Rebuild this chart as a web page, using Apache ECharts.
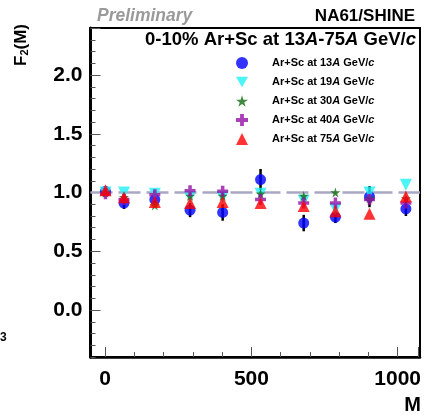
<!DOCTYPE html>
<html>
<head>
<meta charset="utf-8">
<script src="https://cdn.jsdelivr.net/npm/echarts@6/dist/echarts.min.js"></script>
<style>html,body{margin:0;padding:0;background:#fff}#c{width:424px;height:415px}</style>
</head>
<body>
<div id="c"></div>
<script>
// Multiplicity bins M
const mValues = [1, 64, 169, 289, 400, 529, 676, 784, 900, 1024];
// F2(M) values per beam momentum
const f2_13 = [1.01, 0.91, 0.94, 0.85, 0.83, 1.11, 0.74, 0.79, 0.965, 0.86];
const err_13 = [0.02, 0.05, 0.03, 0.06, 0.07, 0.09, 0.07, 0.05, 0.09, 0.06];
const f2_19 = [1.00, 1.00, 0.99, 0.96, 0.96, 0.99, 0.93, 0.86, 1.00, 1.065];
const f2_30 = [1.00, 0.96, 0.89, 0.97, 0.97, 0.99, 0.97, 1.00, 0.95, 0.95];
const f2_40 = [0.99, 0.94, 0.98, 1.015, 1.01, 0.94, 0.91, 0.91, 0.94, 0.91];
const f2_75 = [1.02, 0.96, 0.92, 0.91, 0.92, 0.91, 0.885, 0.84, 0.82, 0.965];
const referenceLevel = 1;
const yTickLabels = ['0.0', '0.5', '1.0', '1.5', '2.0'];
const xTickLabels = ['0', '500', '1000'];
const seriesNames = ['Ar+Sc at 13A GeV/c', 'Ar+Sc at 19A GeV/c', 'Ar+Sc at 30A GeV/c', 'Ar+Sc at 40A GeV/c', 'Ar+Sc at 75A GeV/c'];

const FONT = 'Liberation Sans, Arial, sans-serif';
const starPath = 'path://M50,0 L61,35 L98,35 L68,57 L79,91 L50,70 L21,91 L32,57 L2,35 L39,35 Z';
const crossPath = 'path://M34,0 H66 V34 H100 V66 H66 V100 H34 V66 H0 V34 H34 Z';
const downTriPath = 'path://M0,0 L100,0 L50,87 Z';

function pts(vals) { return mValues.map((m, i) => [m, vals[i]]); }

const chart = echarts.init(document.getElementById('c'), null, {renderer: 'canvas'});
const W = 424, H = 415;
const xMin = -50, xMax = 1072, yMin = -0.4, yMax = 2.4;
const gL = 90.5, gR = 4, gT = 28, gB = 58;
// pixel of value 0 on each axis (for the aligned tick grids)
const pxPerX = (W - gL - gR) / (xMax - xMin);
const x0px = gL + (0 - xMin) * pxPerX;
const pxPerY = (H - gT - gB) / (yMax - yMin);
const y0px = gT + (yMax - 0) * pxPerY;

const yLabelFmt = v => {
  const s = (Math.round(v * 10) / 10).toFixed(1);
  return yTickLabels.indexOf(s) >= 0 ? s : '';
};
const xLabelFmt = v => {
  const s = String(Math.round(v));
  return xTickLabels.indexOf(s) >= 0 ? s : '';
};

const legendFmt = name => {
  const m = name.match(/at (\d+)A GeV\/c/);
  return '{s|}Ar+Sc at ' + m[1] + '{i|A} GeV/{i|c}';
};

const hiddenAxis = (gi, extra) => Object.assign({type: 'value', gridIndex: gi, show: false}, extra || {});
const tickStyle = {color: '#555', width: 1};
const labelStyle = {fontFamily: FONT, fontSize: 21, fontWeight: 'bold', color: '#000'};

chart.setOption({
  animation: false,
  backgroundColor: '#fff',
  title: [
    {text: 'Preliminary', left: 92, top: 2, textStyle: {fontFamily: FONT, fontSize: 17.5, fontWeight: 'bold', fontStyle: 'italic', color: '#9a9a9a'}},
    {text: 'NA61/SHINE', right: 4, top: 3, textStyle: {fontFamily: FONT, fontSize: 17, fontWeight: 'bold', color: '#000'}},
    {text: '0-10% Ar+Sc at 13{i|A}-75{i|A} GeV/{i|c}', right: 3, top: 25,
     textStyle: {fontFamily: FONT, fontSize: 18.5, fontWeight: 'bold', color: '#000',
       rich: {i: {fontFamily: FONT, fontSize: 18.5, fontWeight: 'bold', fontStyle: 'italic', color: '#000'}}}}
  ],
  grid: [
    {left: gL, right: gR, top: gT, bottom: gB, show: true, borderColor: '#000', borderWidth: 2, backgroundColor: 'transparent'},
    {left: gL, right: gR, top: gT, bottom: H - y0px},
    {left: x0px, right: gR, top: gT, bottom: gB}
  ],
  legend: {
    orient: 'vertical', left: 236, top: 57, padding: 0, itemWidth: 12, itemHeight: 12, itemGap: 7,
    data: seriesNames,
    formatter: legendFmt,
    textStyle: {fontFamily: FONT, fontSize: 11, fontWeight: 'bold', color: '#000', lineHeight: 12,
      rich: {s: {width: 19}, i: {fontFamily: FONT, fontSize: 11, fontWeight: 'bold', fontStyle: 'italic', color: '#000'}}}
  },
  xAxis: [
    {type: 'value', gridIndex: 0, min: xMin, max: xMax, position: 'bottom',
     axisLine: {show: true, onZero: false, lineStyle: {color: '#000', width: 2.5}},
     axisTick: {show: false}, axisLabel: {show: false}, splitLine: {show: false}},
    hiddenAxis(1, {min: xMin, max: xMax}),
    {type: 'value', gridIndex: 2, min: 0, max: xMax, interval: 100, position: 'bottom',
     axisLine: {show: false, onZero: false},
     axisTick: {show: true, inside: true, length: 5, lineStyle: tickStyle},
     axisLabel: {show: false}, splitLine: {show: false}},
    {type: 'value', gridIndex: 2, min: 0, max: xMax, interval: 500, position: 'bottom', offset: 0,
     axisLine: {show: false, onZero: false},
     axisTick: {show: true, inside: true, length: 10, lineStyle: tickStyle},
     axisLabel: Object.assign({show: true, margin: 12, formatter: xLabelFmt, showMinLabel: true, showMaxLabel: true}, labelStyle),
     splitLine: {show: false}}
  ],
  yAxis: [
    {type: 'value', gridIndex: 0, min: yMin, max: yMax, interval: 0.1, position: 'left',
     axisLine: {show: true, onZero: false, lineStyle: {color: '#000', width: 3}},
     axisTick: {show: true, inside: true, length: 5, lineStyle: tickStyle},
     axisLabel: {show: false}, splitLine: {show: false}},
    {type: 'value', gridIndex: 1, min: 0, max: yMax, interval: 0.5, position: 'left',
     axisLine: {show: false, onZero: false},
     axisTick: {show: true, inside: true, length: 10, lineStyle: tickStyle},
     axisLabel: Object.assign({show: true, margin: 8, padding: [6, 0, 0, 0], formatter: yLabelFmt}, labelStyle),
     splitLine: {show: false}},
    hiddenAxis(2, {min: yMin, max: yMax})
  ],
  graphic: [
    {type: 'text', x: 12, y: 66, rotation: Math.PI / 2, z: 10,
     style: {text: 'F{sub|2}(M)', fill: '#000', font: 'bold 17px ' + FONT,
       rich: {sub: {fontSize: 11, fontWeight: 'bold', fontFamily: FONT, padding: [7, 0, 0, 0], fill: '#000'}}}},
    {type: 'text', right: 3, bottom: 0, z: 10, style: {text: 'M', fill: '#000', font: 'bold 20px ' + FONT}},
    {type: 'text', left: 0, top: 332, z: 10, style: {text: '3', fill: '#000', font: 'bold 12px ' + FONT}}
  ],
  series: [
    {type: 'custom', name: 'err13', xAxisIndex: 0, yAxisIndex: 0, z: 2, silent: true,
     data: mValues.map((m, i) => [m, f2_13[i], err_13[i]]),
     renderItem: (params, api) => {
       const x = api.value(0), y = api.value(1), e = api.value(2);
       const a = api.coord([x, y + e]), b = api.coord([x, y - e]);
       return {type: 'line', shape: {x1: a[0], y1: a[1], x2: b[0], y2: b[1]}, style: {stroke: '#000', lineWidth: 2.5}};
     },
     markLine: {silent: true, symbol: 'none', z: 1, label: {show: false},
       lineStyle: {color: '#a8a8c6', width: 2.5, type: [22, 6]}, data: [{yAxis: referenceLevel}]}
    },
    {type: 'scatter', name: seriesNames[0], xAxisIndex: 0, yAxisIndex: 0, data: pts(f2_13), symbol: 'circle', symbolSize: 11, z: 3,
     itemStyle: {color: '#0000ff'}},
    {type: 'scatter', name: seriesNames[1], xAxisIndex: 0, yAxisIndex: 0, data: pts(f2_19), symbol: downTriPath, symbolSize: 12, z: 4,
     itemStyle: {color: '#1ff0f5'}},
    {type: 'scatter', name: seriesNames[2], xAxisIndex: 0, yAxisIndex: 0, data: pts(f2_30), symbol: starPath, symbolSize: 10, z: 5,
     itemStyle: {color: '#136b13'}},
    {type: 'scatter', name: seriesNames[3], xAxisIndex: 0, yAxisIndex: 0, data: pts(f2_40), symbol: crossPath, symbolSize: 11, z: 6,
     itemStyle: {color: '#9510a6'}},
    {type: 'scatter', name: seriesNames[4], xAxisIndex: 0, yAxisIndex: 0, data: pts(f2_75), symbol: 'triangle', symbolSize: 12, z: 7,
     itemStyle: {color: '#ff0000'}}
  ]
});
</script>
</body>
</html>
